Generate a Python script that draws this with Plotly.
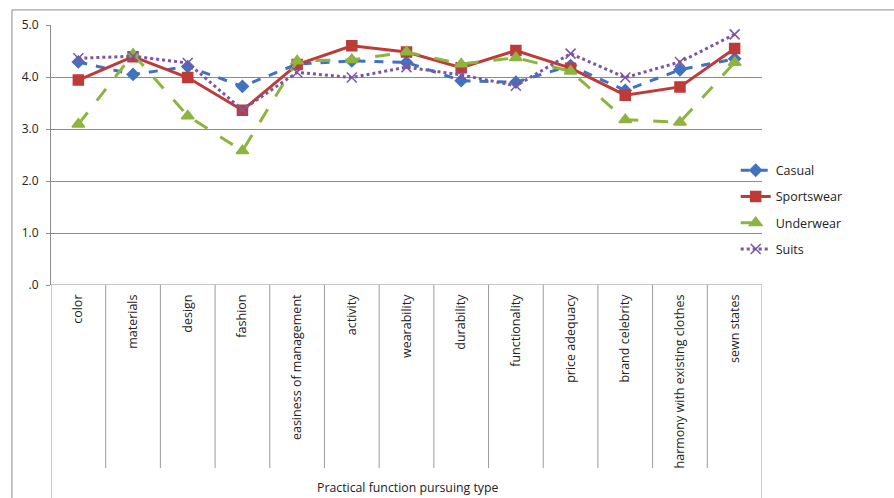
import plotly.graph_objects as go

categories = ["color", "materials", "design", "fashion", "easiness of management", "activity",
              "wearability", "durability", "functionality", "price adequacy", "brand celebrity",
              "harmony with existing clothes", "sewn states"]
casual = [4.29, 4.05, 4.20, 3.82, 4.25, 4.31, 4.28, 3.93, 3.90, 4.22, 3.74, 4.14, 4.35]
sportswear = [3.94, 4.39, 3.99, 3.36, 4.24, 4.60, 4.48, 4.18, 4.51, 4.17, 3.65, 3.81, 4.55]
underwear = [3.09, 4.44, 3.25, 2.58, 4.31, 4.33, 4.48, 4.25, 4.37, 4.11, 3.18, 3.13, 4.28]
suits = [4.36, 4.40, 4.27, 3.37, 4.09, 3.99, 4.19, 4.04, 3.83, 4.45, 3.99, 4.29, 4.82]
ytick_vals = [0, 1, 2, 3, 4, 5]
ytick_text = [".0", "1.0", "2.0", "3.0", "4.0", "5.0"]
x_title = "Practical function pursuing type"

FONT = "Open Sans"
fig = go.Figure()
series = [
    ("Casual", casual, "#3F73C0", "dash", "diamond", 9),
    ("Sportswear", sportswear, "#BE3B37", "solid", "square", 10),
    ("Underwear", underwear, "#8DB43F", "longdash", "triangle-up", 11),
    ("Suits", suits, "#7D55A6", "dot", "x-thin-open", 10),
]
for name, vals, col, dash, sym, sz in series:
    fig.add_trace(go.Scatter(
        x=list(range(len(categories))), y=vals, name=name, mode="lines+markers",
        legendgroup=name,
        line=dict(color=col, width=3, dash=dash),
        marker=dict(symbol=sym, size=sz, color=col, line=dict(color=col, width=1.5)),
    ))

n = len(categories)
shapes = []
# outer frame
shapes.append(dict(type="line", xref="paper", yref="paper", x0=-0.0549, x1=1.2, y0=1.058, y1=1.058,
                   line=dict(color="#8c8c8c", width=1)))
shapes.append(dict(type="line", xref="paper", yref="paper", x0=-0.0549, x1=-0.0549, y0=1.058, y1=-0.9,
                   line=dict(color="#8c8c8c", width=1)))
# category separators
for i in range(1, n):
    shapes.append(dict(type="line", xref="x", yref="paper", x0=i - 0.5, x1=i - 0.5, y0=0, y1=-0.704,
                       line=dict(color="#9a9a9a", width=1)))
for xv in (-0.5, n - 0.5):
    shapes.append(dict(type="line", xref="x", yref="paper", x0=xv, x1=xv, y0=0, y1=-0.9,
                       line=dict(color="#9a9a9a", width=1)))

fig.update_layout(
    width=894, height=498,
    margin=dict(l=51, r=132, t=25, b=213),
    paper_bgcolor="white", plot_bgcolor="white",
    font=dict(family=FONT, size=12, color="#222222"),
    showlegend=True,
    legend=dict(x=0.963, xanchor="left", y=0.29, yanchor="middle", tracegroupgap=7,
                itemwidth=30,
                font=dict(family=FONT, size=12.5, color="#222222"), bgcolor="rgba(0,0,0,0)"),
    xaxis=dict(range=[-0.5, n - 0.5], tickvals=list(range(n)), ticktext=categories,
               tickangle=-90, showgrid=False, zeroline=False, showline=False, ticks="",
               ticklabelstandoff=6,
               tickfont=dict(family=FONT, size=12.5)),
    yaxis=dict(range=[0, 5], tickvals=ytick_vals, ticktext=ytick_text, showgrid=True,
               gridcolor="#8c8c8c", gridwidth=1, zeroline=False, showline=True, linecolor="#8c8c8c",
               ticks="outside", ticklen=4, tickcolor="#8c8c8c", ticklabelstandoff=5,
               tickfont=dict(family=FONT, size=12)),
    shapes=shapes,
    annotations=[dict(text=x_title, xref="paper", yref="paper", x=0.502, y=-0.777,
                      xanchor="center", yanchor="middle", showarrow=False,
                      font=dict(family=FONT, size=12.3, color="#222222"))],
)
fig.add_shape(type="line", xref="paper", yref="y", x0=0, x1=1, y0=0, y1=0,
              line=dict(color="#8c8c8c", width=1))

fig.write_html("out.html")
